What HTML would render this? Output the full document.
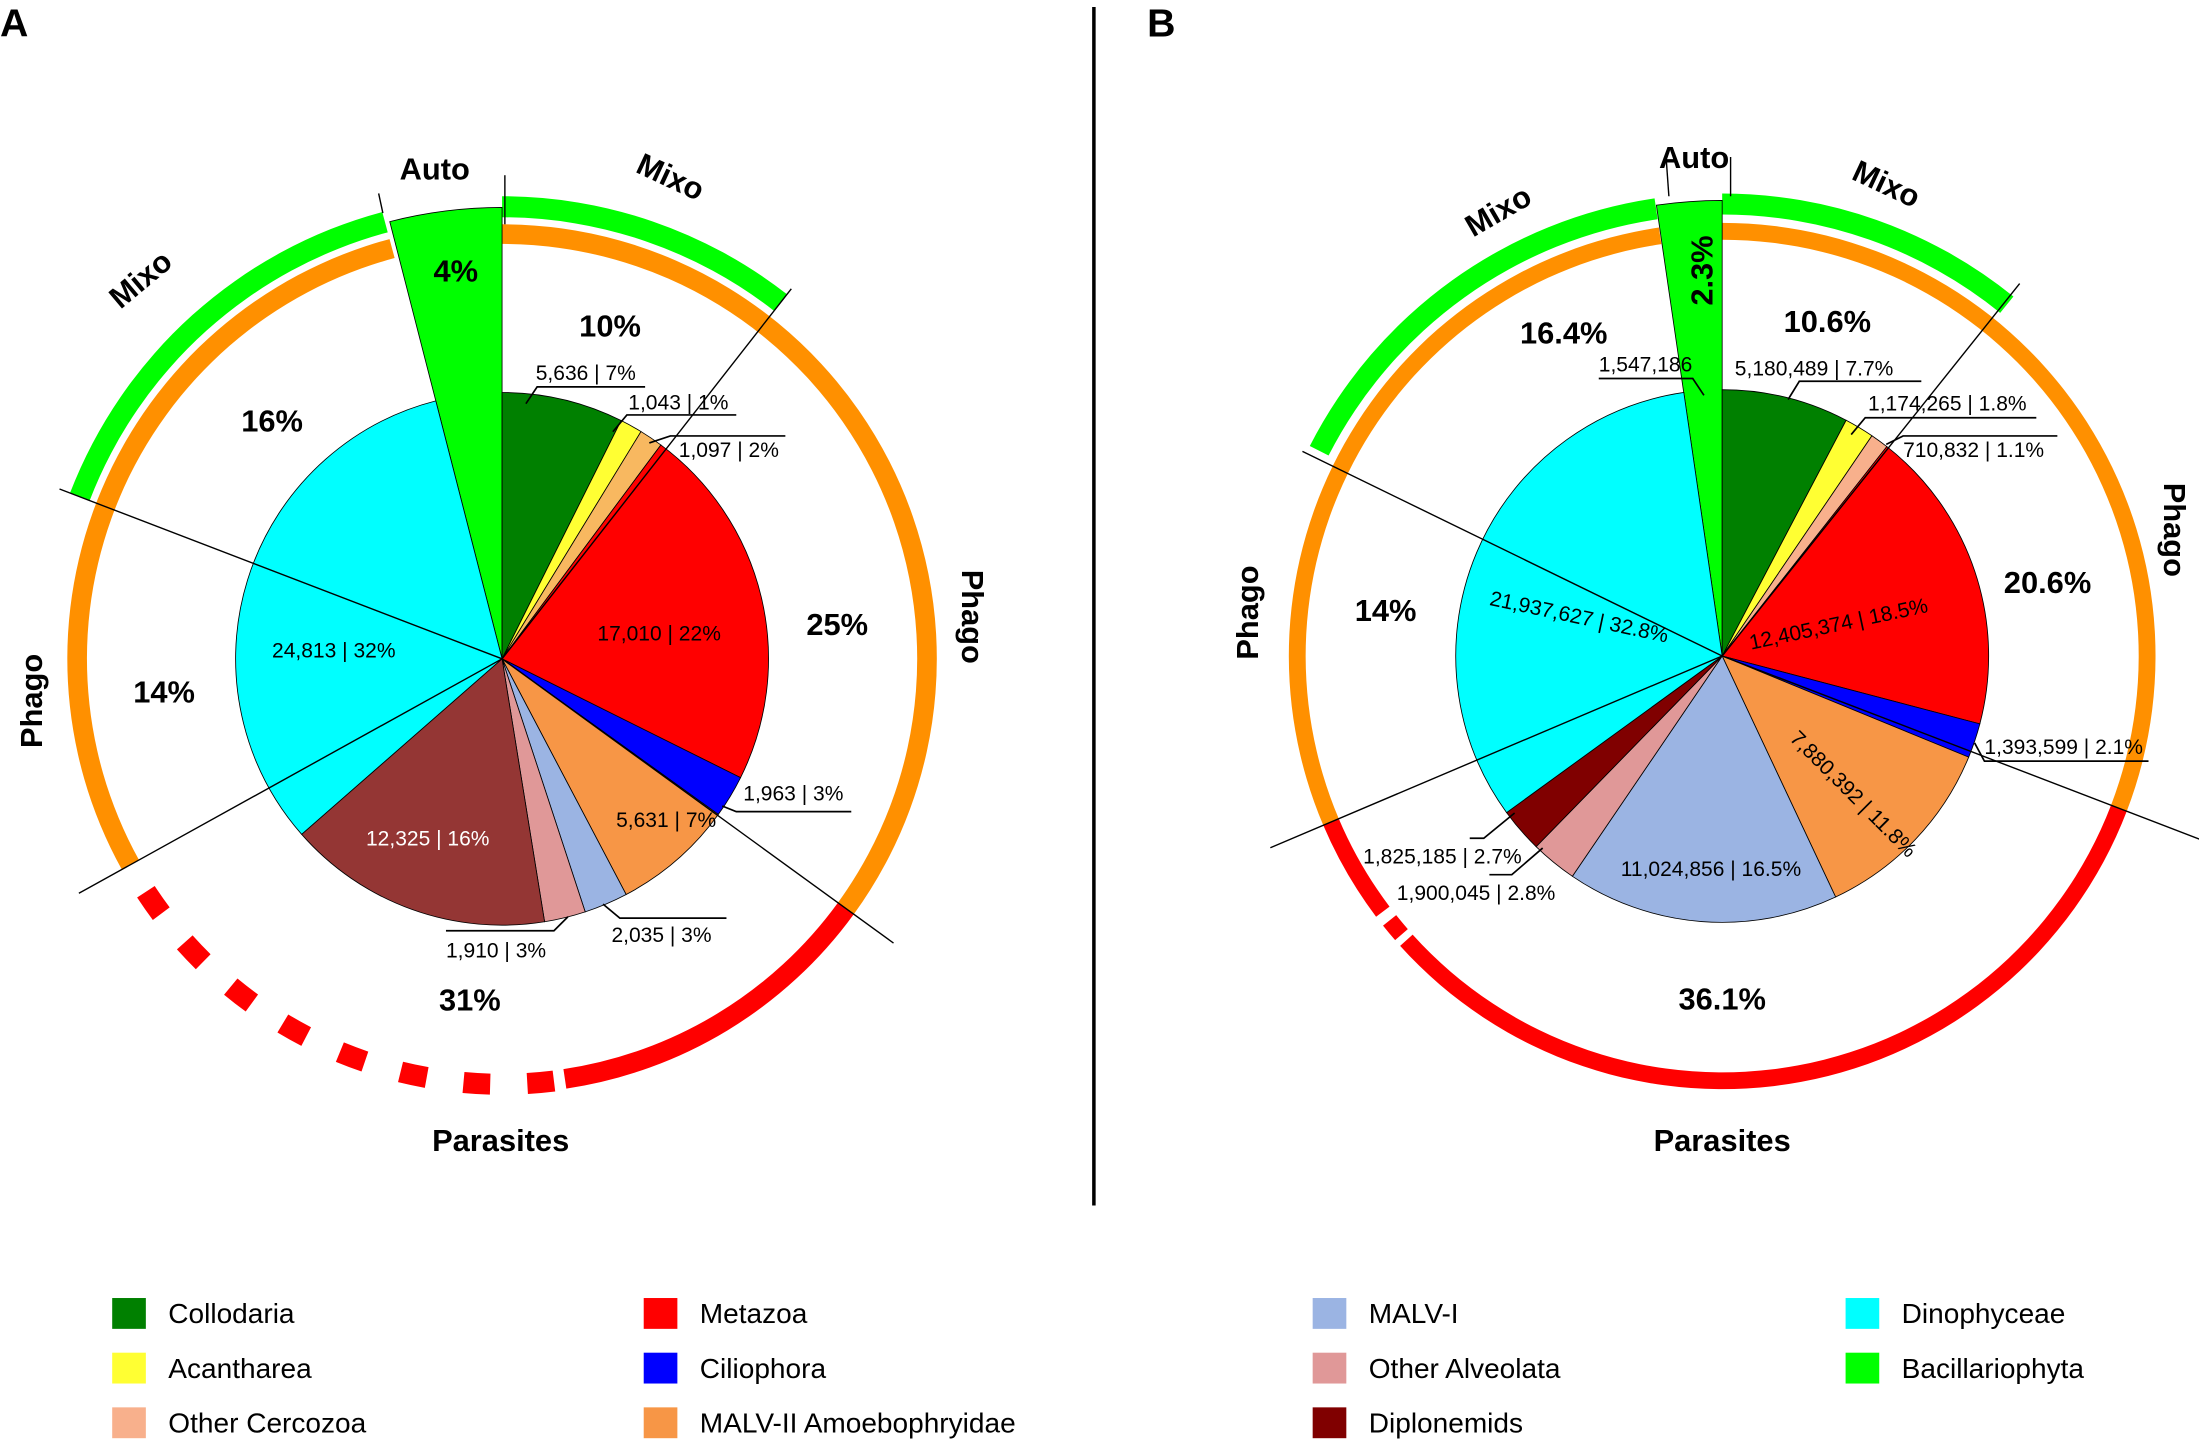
<!DOCTYPE html>
<html><head><meta charset="utf-8"><style>
html,body{margin:0;padding:0;background:#fff}
svg{display:block}
text{font-family:"Liberation Sans",sans-serif}
.b{font-weight:bold;font-size:22px}
.v{font-size:15px}
.lg{font-size:20px}
</style></head><body>
<svg id="s" width="2199" height="1441" viewBox="0 0 1568 1028" preserveAspectRatio="none" xmlns="http://www.w3.org/2000/svg">
<line x1="780" y1="5" x2="780" y2="860" stroke="#000" stroke-width="2.5"/>
<text x="0" y="26" class="b" style="font-size:28px">A</text>
<text x="818" y="26" class="b" style="font-size:28px">B</text>
<g id="g"></g>
<text class="b" x="310" y="128" text-anchor="middle">Auto</text>
<text class="b" transform="translate(105,205) rotate(-40)" text-anchor="middle">Mixo</text>
<text class="b" transform="translate(475,133) rotate(25)" text-anchor="middle">Mixo</text>
<text class="b" transform="translate(686,440) rotate(90)" text-anchor="middle">Phago</text>
<text class="b" transform="translate(30,500) rotate(-90)" text-anchor="middle">Phago</text>
<text class="b" x="357" y="821" text-anchor="middle">Parasites</text>
<text class="b" x="435" y="240" text-anchor="middle">10%</text>
<text class="b" x="597" y="453" text-anchor="middle">25%</text>
<text class="b" x="335" y="721" text-anchor="middle">31%</text>
<text class="b" x="117" y="501" text-anchor="middle">14%</text>
<text class="b" x="194" y="308" text-anchor="middle">16%</text>
<text class="b" x="325" y="201" text-anchor="middle">4%</text>
<text class="b" x="1208" y="120" text-anchor="middle">Auto</text>
<text class="b" transform="translate(1072,157) rotate(-30)" text-anchor="middle">Mixo</text>
<text class="b" transform="translate(1342,138) rotate(25)" text-anchor="middle">Mixo</text>
<text class="b" transform="translate(1543,378) rotate(90)" text-anchor="middle">Phago</text>
<text class="b" transform="translate(897,437) rotate(-90)" text-anchor="middle">Phago</text>
<text class="b" x="1228" y="821" text-anchor="middle">Parasites</text>
<text class="b" x="1115" y="245" text-anchor="middle">16.4%</text>
<text class="b" x="1303" y="237" text-anchor="middle">10.6%</text>
<text class="b" x="1460" y="423" text-anchor="middle">20.6%</text>
<text class="b" x="988" y="443" text-anchor="middle">14%</text>
<text class="b" x="1228" y="720" text-anchor="middle">36.1%</text>
<text class="b" transform="translate(1221,193) rotate(-90)" text-anchor="middle">2.3%</text>
<g class="lg">
<rect x="80" y="926" width="24" height="22" fill="#008000"/><text class="lg" x="120" y="944">Collodaria</text>
<rect x="80" y="965" width="24" height="22" fill="#ffff33"/><text class="lg" x="120" y="983">Acantharea</text>
<rect x="80" y="1004" width="24" height="22" fill="#f8b08c"/><text class="lg" x="120" y="1022">Other Cercozoa</text>
<rect x="459" y="926" width="24" height="22" fill="#ff0000"/><text class="lg" x="499" y="944">Metazoa</text>
<rect x="459" y="965" width="24" height="22" fill="#0000ff"/><text class="lg" x="499" y="983">Ciliophora</text>
<rect x="459" y="1004" width="24" height="22" fill="#f79646"/><text class="lg" x="499" y="1022">MALV-II Amoebophryidae</text>
<rect x="936" y="926" width="24" height="22" fill="#9bb4e3"/><text class="lg" x="976" y="944">MALV-I</text>
<rect x="936" y="965" width="24" height="22" fill="#e09898"/><text class="lg" x="976" y="983">Other Alveolata</text>
<rect x="936" y="1004" width="24" height="22" fill="#800000"/><text class="lg" x="976" y="1022">Diplonemids</text>
<rect x="1316" y="926" width="24" height="22" fill="#00ffff"/><text class="lg" x="1356" y="944">Dinophyceae</text>
<rect x="1316" y="965" width="24" height="22" fill="#00ff00"/><text class="lg" x="1356" y="983">Bacillariophyta</text>
</g>
<g id="t"></g>
</svg>
<script>
var NS="http://www.w3.org/2000/svg",g=document.getElementById('g'),tg=document.getElementById('t');
function el(n,a,p){var e=document.createElementNS(NS,n);for(var k in a)e.setAttribute(k,a[k]);(p||g).appendChild(e);return e;}
function pt(cx,cy,r,a){var t=a*Math.PI/180;return [cx+r*Math.sin(t),cy-r*Math.cos(t)];}
function wedge(cx,cy,r,a0,a1,fill){var p0=pt(cx,cy,r,a0),p1=pt(cx,cy,r,a1),l=(a1-a0)>180?1:0;
 el('path',{d:'M'+cx+','+cy+'L'+p0+'A'+r+','+r+' 0 '+l+' 1 '+p1+'Z',fill:fill,stroke:'#000','stroke-width':0.6});}
function arc(cx,cy,r1,r2,a0,a1,fill){var a=pt(cx,cy,r2,a0),b=pt(cx,cy,r2,a1),c=pt(cx,cy,r1,a1),d=pt(cx,cy,r1,a0),l=(a1-a0)>180?1:0;
 el('path',{d:'M'+a+'A'+r2+','+r2+' 0 '+l+' 1 '+b+'L'+c+'A'+r1+','+r1+' 0 '+l+' 0 '+d+'Z',fill:fill});}
function ln(x1,y1,x2,y2,w){el('line',{x1:x1,y1:y1,x2:x2,y2:y2,stroke:'#000','stroke-width':w||1});}
function pie(cx,cy,r,data,cols){var a=0;for(var i=0;i<data.length;i++){var s=data[i]*360/100;wedge(cx,cy,r,a,a+s,cols[i]);a+=s;}}
var colsA=['#008000','#ffff33','#f8b860','#ff0000','#0000ff','#f79646','#9bb4e3','#e09898','#943634','#00ffff'];
var colsB=['#008000','#ffff33','#f8b08c','#ff0000','#0000ff','#f79646','#9bb4e3','#e09898','#800000','#00ffff'];
var cx=358,cy=470;
arc(cx,cy,296,310,0,126,'#ff9000');
arc(cx,cy,296,310,126,171.5,'#ff0000');
for(var i=0;i<8;i++){var a=173+i*8.6;arc(cx,cy,296,311,a,a+3.6,'#ff0000');}
arc(cx,cy,296,310,241,345,'#ff9000');
arc(cx,cy,315,330,0,38,'#00ff00');arc(cx,cy,315,330,291,345,'#00ff00');
wedge(cx,cy,322,345.6,360,'#00ff00');
pie(cx,cy,190,[7.37,1.36,1.43,22.2,2.57,7.36,2.66,2.5,16.1,32.45],colsA);
[[38,335],[126,345],[241,345],[291,338]].forEach(function(d){var p=pt(cx,cy,d[1],d[0]);ln(cx,cy,p[0],p[1]);});
ln(270,138,273,152);ln(360,125,360,160);
cx=1228;cy=468;
arc(cx,cy,297,309,0,111,'#ff9000');
arc(cx,cy,297,309,111,228,'#ff0000');arc(cx,cy,297,309,229,231.5,'#ff0000');arc(cx,cy,297,309,233,247,'#ff0000');
arc(cx,cy,297,309,247,351.6,'#ff9000');
arc(cx,cy,315,330,0,39,'#00ff00');arc(cx,cy,315,330,297,351.6,'#00ff00');
wedge(cx,cy,325,351.7,360,'#00ff00');
pie(cx,cy,190,[7.7,1.8,1.1,18.5,2.1,11.8,16.5,2.8,2.7,32.7],colsB);
[[38.6,340],[111,365],[247,350],[296,333]].forEach(function(d){var p=pt(cx,cy,d[1],d[0]);ln(cx,cy,p[0],p[1]);});
ln(1188,112,1190,140);ln(1234,112,1234,140);
function T(x,y,s,anchor,fill,rot){var e=el('text',{x:x,y:y,'class':'v','text-anchor':anchor||'start',fill:fill||'#000'},tg);if(rot)e.setAttribute('transform','rotate('+rot+' '+x+' '+y+')');e.textContent=s;}
function L(pts){el('polyline',{points:pts,fill:'none',stroke:'#000','stroke-width':1.2},tg);}
T(382,271,'5,636 | 7%');L('375,288 383,276 460,276');
T(448,292,'1,043 | 1%');L('437,308 447,296 525,296');
T(484,326,'1,097 | 2%');L('463,316 478,311 560,311');
T(470,457,'17,010 | 22%','middle');
T(530,571,'1,963 | 3%');L('515,575 525,579 607,579');
T(475,590,'5,631 | 7%','middle');
T(436,672,'2,035 | 3%');L('430,645 442,655 518,655');
T(318,683,'1,910 | 3%');L('405,654 395,664 318,664');
T(305,603,'12,325 | 16%','middle','#fff');
T(238,469,'24,813 | 32%','middle');
T(1140,265,'1,547,186');L('1215,282 1207,270 1140,270');
T(1237,268,'5,180,489 | 7.7%');L('1275,285 1283,272 1370,272');
T(1332,293,'1,174,265 | 1.8%');L('1320,310 1330,298 1452,298');
T(1357,326,'710,832 | 1.1%');L('1345,317 1357,311 1467,311');
T(1312,450,'12,405,374 | 18.5%','middle','#000',-12);
T(1415,538,'1,393,599 | 2.1%');L('1408,530 1415,543 1532,543');
T(1318,570,'7,880,392 | 11.8%','middle','#000',45);
T(1220,625,'11,024,856 | 16.5%','middle');
T(996,642,'1,900,045 | 2.8%');L('1100,605 1078,624 1062,624');
T(972,616,'1,825,185 | 2.7%');L('1080,580 1058,598 1048,598');
T(1125,445,'21,937,627 | 32.8%','middle','#000',12);
</script>
</body></html>
